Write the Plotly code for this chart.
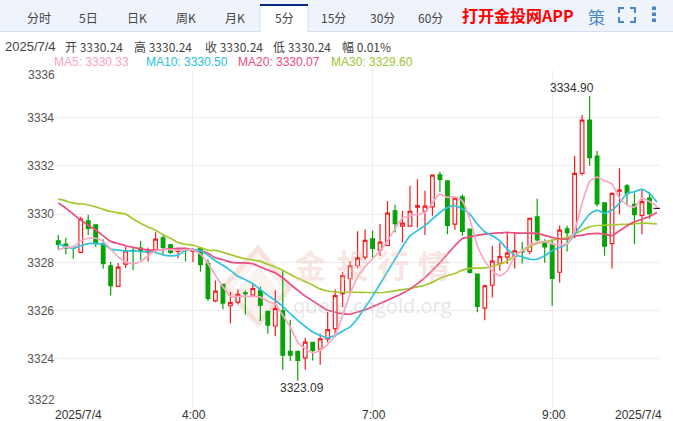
import plotly.graph_objects as go

W, H = 673, 421

tabs = ["分时", "5日", "日K", "周K", "月K", "5分", "15分", "30分", "60分"]
tab_centers = [39, 88, 137, 186, 235, 284, 333, 382, 431]

opens = [3328.89,3328.76,3328.62,3328.41,3329.72,3329.56,3328.78,3327.86,3327.00,3327.93,
         3328.50,3328.59,3328.41,3328.51,3329.02,3328.73,3328.45,3328.55,3328.45,3328.58,
         3327.95,3326.40,3327.09,3326.20,3326.35,3326.73,3326.64,3326.84,3325.97,3325.36,
         3326.00,3324.31,3324.31,3324.04,3324.68,3324.40,3324.83,3325.25,3326.70,3327.32,
         3327.86,3328.22,3328.98,3328.51,3328.70,3330.14,3329.50,3329.50,3330.29,3330.12,
         3330.30,3331.63,3331.38,3329.59,3330.72,3329.38,3327.51,3326.10,3327.05,3327.97,
         3328.22,3328.26,3328.46,3328.45,3329.89,3328.81,3328.76,3327.59,3329.39,3329.20,
         3331.69,3333.90,3332.41,3330.47,3328.78,3330.95,3331.17,3330.41,3329.95,3330.67,3330.24]
closes = [3328.74,3328.59,3328.59,3329.79,3329.41,3328.78,3327.95,3327.03,3327.80,3328.48,
          3328.46,3328.48,3328.48,3328.96,3328.62,3328.41,3328.52,3328.52,3328.52,3327.90,
          3326.50,3326.81,3326.31,3326.33,3326.67,3326.70,3326.91,3326.22,3325.40,3326.08,
          3324.15,3324.15,3323.93,3324.69,3324.35,3324.83,3325.21,3326.62,3327.45,3327.86,
          3328.19,3328.91,3328.58,3328.84,3330.04,3329.61,3329.63,3330.12,3330.35,3330.33,
          3331.62,3331.44,3329.53,3330.66,3329.28,3327.58,3326.17,3327.03,3328.05,3328.24,
          3328.38,3328.48,3328.43,3329.83,3328.93,3328.64,3327.33,3329.34,3329.23,3331.69,
          3333.90,3332.34,3330.42,3328.67,3330.86,3331.00,3330.85,3329.98,3330.52,3330.02,3330.24]
highs = [3329.14,3329.02,3328.69,3329.89,3329.97,3329.56,3328.96,3328.02,3327.97,3328.64,
         3328.62,3328.89,3328.62,3329.25,3329.17,3328.76,3328.59,3328.59,3328.59,3328.59,
         3328.13,3327.25,3327.09,3326.77,3326.87,3326.84,3327.11,3327.00,3325.97,3326.84,
         3327.64,3325.62,3324.31,3324.87,3324.71,3325.04,3325.94,3326.87,3327.60,3328.06,
         3329.29,3329.36,3329.31,3329.59,3330.55,3330.39,3330.14,3331.18,3331.45,3330.97,
         3331.62,3331.76,3331.38,3330.66,3330.83,3329.38,3327.51,3327.07,3328.69,3328.82,
         3329.24,3329.20,3328.84,3329.86,3330.64,3328.96,3328.96,3329.53,3329.52,3332.41,
         3334.11,3334.90,3332.62,3330.47,3330.90,3331.90,3331.25,3330.89,3331.00,3330.93,3330.24]
lows = [3328.53,3328.34,3328.15,3328.38,3329.14,3328.64,3327.73,3326.63,3327.00,3327.77,
        3327.68,3328.09,3328.04,3328.41,3328.34,3328.34,3328.17,3328.04,3328.01,3327.61,
        3326.40,3326.35,3326.06,3325.46,3326.26,3325.84,3326.62,3325.57,3325.04,3324.94,
        3323.55,3323.91,3323.09,3323.55,3323.93,3323.75,3324.69,3324.90,3326.15,3326.77,
        3327.76,3328.11,3328.20,3328.26,3328.70,3329.24,3328.82,3329.50,3329.45,3329.14,
        3329.93,3330.93,3329.17,3329.35,3329.10,3327.54,3325.93,3325.60,3326.54,3327.65,
        3327.93,3327.75,3327.95,3328.34,3328.87,3327.98,3326.20,3327.16,3328.45,3329.00,
        3331.60,3332.01,3330.31,3328.27,3327.75,3329.99,3330.42,3328.76,3329.17,3329.80,3330.24]

ma5 = [3328.52,3328.62,3328.64,3328.89,3329.00,3329.00,3328.87,3328.55,3328.23,3328.02,
       3327.95,3328.04,3328.27,3328.48,3328.53,3328.53,3328.51,3328.53,3328.51,3328.34,
       3327.94,3327.46,3326.98,3326.59,3326.59,3326.59,3326.59,3326.56,3326.38,3326.28,
       3325.80,3325.32,3324.69,3324.42,3324.25,3324.35,3324.60,3324.97,3325.80,3326.70,
       3327.39,3327.82,3328.15,3328.48,3328.89,3329.40,3329.83,3329.93,3330.00,3330.07,
       3330.48,3330.83,3330.69,3330.72,3330.55,3329.79,3328.69,3328.06,3327.65,3327.44,
       3327.65,3328.27,3328.48,3328.73,3328.82,3328.87,3328.76,3328.73,3328.76,3329.30,
       3330.46,3331.35,3331.54,3331.39,3331.25,3330.67,3330.38,3330.29,3330.67,3330.52,3330.33]
ma10 = [3328.76,3328.65,3328.59,3328.69,3328.78,3328.78,3328.76,3328.55,3328.51,3328.48,
        3328.48,3328.44,3328.44,3328.41,3328.31,3328.27,3328.30,3328.51,3328.53,3328.48,
        3328.30,3328.06,3327.88,3327.67,3327.42,3327.28,3327.11,3326.87,3326.63,3326.42,
        3326.17,3325.87,3325.59,3325.34,3325.11,3324.97,3324.87,3324.97,3325.15,3325.32,
        3325.68,3326.13,3326.60,3327.10,3327.62,3328.13,3328.65,3329.10,3329.32,3329.52,
        3329.80,3330.07,3330.27,3330.35,3330.21,3330.00,3329.59,3329.27,3329.10,3328.89,
        3328.55,3328.31,3328.23,3328.13,3328.13,3328.27,3328.48,3328.62,3328.76,3329.17,
        3329.59,3330.00,3330.17,3330.04,3330.17,3330.45,3330.86,3330.93,3331.04,3330.86,3330.50]
ma20 = [3330.46,3330.25,3330.00,3329.76,3329.54,3329.34,3329.10,3328.87,3328.78,3328.69,
        3328.62,3328.56,3328.51,3328.51,3328.53,3328.56,3328.58,3328.58,3328.52,3328.48,
        3328.38,3328.19,3328.11,3328.01,3327.98,3327.98,3327.94,3327.81,3327.68,3327.56,
        3327.36,3327.10,3326.84,3326.60,3326.40,3326.20,3326.01,3325.93,3325.87,3325.85,
        3325.94,3326.03,3326.16,3326.29,3326.43,3326.57,3326.72,3326.89,3327.12,3327.37,
        3327.67,3327.99,3328.34,3328.69,3328.99,3329.06,3329.12,3329.17,3329.20,3329.22,
        3329.24,3329.22,3329.21,3329.21,3329.20,3329.12,3329.03,3328.98,3328.96,3329.08,
        3329.13,3329.18,3329.20,3329.17,3329.11,3329.31,3329.52,3329.68,3329.79,3329.90,3330.07]
ma30 = [3330.62,3330.55,3330.46,3330.43,3330.38,3330.30,3330.20,3330.11,3330.05,3330.00,
        3329.80,3329.62,3329.47,3329.33,3329.15,3329.00,3328.82,3328.75,3328.71,3328.61,
        3328.50,3328.50,3328.42,3328.32,3328.23,3328.15,3328.10,3328.04,3327.92,3327.81,
        3327.67,3327.50,3327.34,3327.20,3327.06,3326.90,3326.81,3326.77,3326.76,3326.76,
        3326.76,3326.75,3326.75,3326.74,3326.77,3326.82,3326.87,3326.92,3326.98,3327.05,
        3327.18,3327.34,3327.45,3327.54,3327.68,3327.75,3327.76,3327.77,3327.83,3327.93,
        3328.05,3328.28,3328.48,3328.64,3328.78,3328.85,3328.92,3328.98,3329.03,3329.17,
        3329.33,3329.47,3329.53,3329.54,3329.55,3329.57,3329.58,3329.60,3329.63,3329.62,3329.60]

x = list(range(len(opens)))
y_ticks = [3322, 3324, 3326, 3328, 3330, 3332, 3334, 3336]
x_tick_idx = [18, 42, 66]
x_tick_txt = ["4:00", "7:00", "9:00"]
last_idx = [80]
last_val = [3330.24]

RED, GREEN = "#f71c1c", "#08a308"
FONT = "Liberation Sans, Noto Sans CJK SC, sans-serif"
CJK = "Noto Sans CJK SC, Liberation Sans, sans-serif"

def px(v): return v / W
def py(v): return 1 - v / H

fig = go.Figure()
fig.add_trace(go.Candlestick(
    x=x, open=opens, high=highs, low=lows, close=closes, whiskerwidth=0,
    increasing=dict(line=dict(color=RED, width=1.2), fillcolor="#ffffff"),
    decreasing=dict(line=dict(color=GREEN, width=1.2), fillcolor=GREEN),
    showlegend=False, hoverinfo="skip"))
for vals, c in [(ma30, "#a3c92f"), (ma20, "#ee4c80"), (ma10, "#2ec4e0"), (ma5, "#f9a8c4")]:
    fig.add_trace(go.Scatter(x=x, y=vals, mode="lines", showlegend=False, hoverinfo="skip",
                             line=dict(color=c, width=1.7, shape="spline", smoothing=0.5)))
fig.add_trace(go.Scatter(x=last_idx, y=last_val, mode="markers", showlegend=False, hoverinfo="skip",
                         marker=dict(symbol="line-ew", size=5, color="#111", line=dict(color="#111", width=1))))

shapes = []
def rect(x0, y0, x1, y1, fill, layer="above"):
    shapes.append(dict(type="rect", xref="paper", yref="paper", x0=px(x0), x1=px(x1), y0=py(y0), y1=py(y1),
                       fillcolor=fill, line=dict(width=0), layer=layer))
def path(pts, color, width, layer="below", fill=None, close=False):
    d = "M " + " L ".join(f"{px(a):.5f},{py(b):.5f}" for a, b in pts) + (" Z" if close else "")
    shapes.append(dict(type="path", xref="paper", yref="paper", path=d, layer=layer,
                       line=dict(color=color, width=width), fillcolor=fill or "rgba(0,0,0,0)"))

rect(0, 0, 673, 32, "#eef3fc")
rect(0, 31, 673, 32, "#d6e0f2")
rect(260, 4, 308, 33, "#ffffff")
rect(260, 4, 308, 6, "#0b2c86")
rect(259.5, 6, 260.5, 32, "#d6e0f2")
rect(307.5, 6, 308.5, 32, "#d6e0f2")

blue = "#4b86c9"
for a in [[(619, 13), (619, 8), (624, 8)], [(630, 8), (635, 8), (635, 13)],
          [(619, 17), (619, 22), (624, 22)], [(630, 22), (635, 22), (635, 17)]]:
    path(a, blue, 2, layer="above")
for yy in (8, 14, 20):
    rect(652, yy - 1.5, 656, yy + 2, blue)

# watermark logo
wm = "rgba(243,212,203,0.6)"
path([(258, 248), (290, 288), (258, 324), (224, 286)], wm, 5, fill="rgba(248,232,226,0.5)", close=True)
path([(236, 288), (258, 264), (280, 288)], "#ffffff", 4)
path([(242, 302), (258, 286), (274, 302)], "#ffffff", 4)

ann = []
def t(s, xx, yy, size=12, color="#333", anchor="center", font=FONT, **kw):
    ann.append(dict(text=s, xref="paper", yref="paper", x=px(xx), y=py(yy), xanchor=anchor, yanchor="middle",
                    showarrow=False, font=dict(size=size, color=color, family=font), **kw))

for s, c in zip(tabs, tab_centers):
    t(s, c, 17.5, 12, "#444", font=CJK)
t("<b>打开金投网APP</b>", 518, 15, 16, "#ff0000", font=CJK)
t("策", 596, 16, 17, blue, font=CJK)

for ch, cx in zip("金投行情", (310, 353, 393, 434)):
    t(f"<b>{ch}</b>", cx, 264, 32, "rgba(240,195,185,0.42)", font=CJK)
t("quote.cngold.org", 372, 305, 20, "rgba(190,190,190,0.38)", font="Open Sans, sans-serif")

t("2025/7/4", 3, 46, 13, "#444", "left")
for s, xx in [("开 3330.24", 63), ("高 3330.24", 132), ("收 3330.24", 203), ("低 3330.24", 271), ("幅 0.01%", 340)]:
    t(s, xx, 46, 12, "#444", "left", font=CJK)
t("MA5: 3330.33", 52, 62, 12, "#f9a3bf", "left")
t("MA10: 3330.50", 144, 62, 12, "#25c2e0", "left")
t("MA20: 3330.07", 236, 62, 12, "#ec4a7e", "left")
t("MA30: 3329.60", 329, 62, 12, "#9cc62f", "left")

t("3336", 41, 75, 12, "#555")
t("3322", 41, 400, 12, "#555")
t("2025/7/4", 78.5, 415, 12, "#333")
t("2025/7/4", 638, 415, 12, "#333")

for s, i in zip(x_tick_txt, x_tick_idx):
    ann.append(dict(text=s, xref="x", yref="paper", x=i, y=py(415), xanchor="center", yanchor="middle", xshift=1.5,
                    showarrow=False, font=dict(size=12, color="#333", family=FONT)))

t("3334.90", 572, 88, 12, "#333")
t("3323.09", 302, 388, 12, "#333")

fig.update_layout(
    width=W, height=H, margin=dict(l=0, r=0, t=0, b=0, autoexpand=False),
    paper_bgcolor="#ffffff", plot_bgcolor="#ffffff", showlegend=False,
    shapes=shapes, annotations=ann,
    xaxis=dict(domain=[px(55), px(660)], range=[-0.44, 80.41], rangeslider=dict(visible=False),
               tickmode="array", tickvals=x_tick_idx, showticklabels=False, showgrid=True, gridcolor="#eeeeee",
               gridwidth=1.2, zeroline=False, showline=False, ticks=""),
    yaxis=dict(domain=[py(407), py(69.5)], range=[3322, 3336], tickmode="array", tickvals=y_ticks,
               ticktext=["", "3324", "3326", "3328", "3330", "3332", "3334", ""],
               showgrid=True, gridcolor="#eeeeee", gridwidth=1.2, zeroline=False, showline=False, ticks="",
               tickfont=dict(size=12, color="#555", family=FONT)),
)

fig.write_html("out.html", config={"displayModeBar": False, "responsive": False},
               post_script="document.body.style.margin='0';document.body.style.overflow='hidden';")
